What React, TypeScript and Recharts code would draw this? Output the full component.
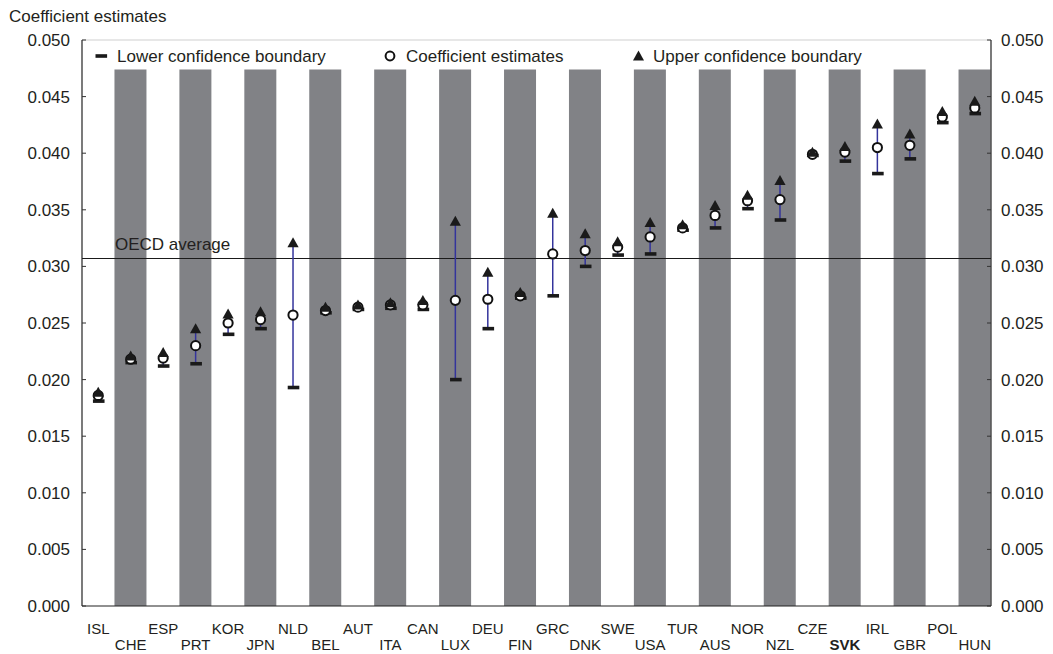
import React from 'react';
import { ComposedChart, Bar, Line, XAxis, YAxis, ReferenceLine, ErrorBar } from 'recharts';

const categories = ['ISL','CHE','ESP','PRT','KOR','JPN','NLD','BEL','AUT','ITA','CAN','LUX','DEU','FIN','GRC','DNK','SWE','USA','TUR','AUS','NOR','NZL','CZE','SVK','IRL','GBR','POL','HUN'];
const lowerBound = [0.0181,0.0215,0.0212,0.0214,0.0240,0.0245,0.0193,0.0259,0.0262,0.0263,0.0262,0.0200,0.0245,0.0272,0.0274,0.0300,0.0310,0.0311,0.0332,0.0334,0.0351,0.0341,0.0398,0.0393,0.0382,0.0395,0.0427,0.0435];
const estimates = [0.0186,0.0218,0.0219,0.0230,0.0250,0.0253,0.0257,0.0261,0.0264,0.0266,0.0266,0.0270,0.0271,0.0274,0.0311,0.0314,0.0317,0.0326,0.0334,0.0345,0.0358,0.0359,0.0399,0.0401,0.0405,0.0407,0.0432,0.0440];
const upperBound = [0.0188,0.0220,0.0223,0.0244,0.0257,0.0259,0.0320,0.0263,0.0265,0.0267,0.0269,0.0339,0.0294,0.0276,0.0346,0.0328,0.0321,0.0338,0.0336,0.0353,0.0362,0.0375,0.0400,0.0405,0.0425,0.0416,0.0436,0.0445];
const bandTop = 0.0474;
const oecdAverage = 0.0307;
const yTicks = [0,0.005,0.010,0.015,0.020,0.025,0.030,0.035,0.040,0.045,0.050];
const legendLabels = ['Lower confidence boundary','Coefficient estimates','Upper confidence boundary'];
const titleText = 'Coefficient estimates';
const oecdLabel = 'OECD average';
const boldCategory = 'SVK';

const data = categories.map((c, i) => ({
  name: c,
  band: i % 2 === 1 ? bandTop : null,
  lower: lowerBound[i],
  est: estimates[i],
  upper: upperBound[i],
  spread: [upperBound[i] - lowerBound[i], 0],
}));

const FONT = '"Liberation Sans", Arial, Helvetica, sans-serif';
const TEXT = '#231f20';
const NAVY = '#34349c';

const LowerDash = (p: any) => {
  const { cx, cy } = p;
  if (cx == null || cy == null) return <g key={p.key} />;
  return <rect key={p.key} x={cx - 5.3} y={cy - 1.8} width={11.6} height={3.6} fill="#1a1a1a" />;
};
const EstCircle = (p: any) => {
  const { cx, cy } = p;
  if (cx == null || cy == null) return <g key={p.key} />;
  return <circle key={p.key} cx={cx} cy={cy} r={4.6} fill="#fff" stroke="#111" strokeWidth={2} />;
};
const UpperTri = (p: any) => {
  const { cx, cy } = p;
  if (cx == null || cy == null) return <g key={p.key} />;
  return <path key={p.key} d={`M${cx},${cy - 6.5} L${cx + 5.6},${cy + 3.5} L${cx - 5.6},${cy + 3.5} Z`} fill="#1a1a1a" />;
};

const CategoryTick = (p: any) => {
  const { x, payload } = p;
  const idx = categories.indexOf(payload.value);
  const row = idx % 2;
  return (
    <text x={x} y={row ? 650 : 634} textAnchor="middle" fontSize={15} fontFamily={FONT} fill={TEXT}
      fontWeight={payload.value === boldCategory ? 'bold' : 'normal'}>{payload.value}</text>
  );
};

const LeftTick = (p: any) => {
  const { y, payload } = p;
  return (
    <g>
      <line x1={82} x2={86} y1={y} y2={y} stroke="#333" strokeWidth={1} />
      <text x={70} y={y + 6} textAnchor="end" fontSize={17} fontFamily={FONT} fill={TEXT}>{Number(payload.value).toFixed(3)}</text>
    </g>
  );
};
const RightTick = (p: any) => {
  const { y, payload } = p;
  return (
    <g>
      <line x1={987} x2={991} y1={y} y2={y} stroke="#333" strokeWidth={1} />
      <text x={1001} y={y + 6} textAnchor="start" fontSize={17} fontFamily={FONT} fill={TEXT}>{Number(payload.value).toFixed(3)}</text>
    </g>
  );
};

const OecdLabel = (p: any) => {
  const vb = p.viewBox || {};
  return <text x={vb.x + 33} y={vb.y - 8} fontSize={17} fontFamily={FONT} fill={TEXT}>{oecdLabel}</text>;
};

export default function App() {
  return (
    <div style={{ position: 'absolute', left: 0, top: 0, width: 1053, height: 654, background: '#fff' }}>
      <ComposedChart width={1053} height={654} data={data} margin={{ top: 40, right: 0, bottom: 0, left: 0 }} barCategoryGap={0}>
        <XAxis dataKey="name" height={48} tick={<CategoryTick />} tickLine={false} interval={0} axisLine={{ stroke: '#222', strokeWidth: 1.2 }} />
        <YAxis yAxisId="left" orientation="left" width={82} domain={[0, 0.05]} ticks={yTicks} tick={<LeftTick />} tickLine={false} axisLine={{ stroke: '#222', strokeWidth: 1.2 }} allowDataOverflow />
        <YAxis yAxisId="right" orientation="right" width={62} domain={[0, 0.05]} ticks={yTicks} tick={<RightTick />} tickLine={false} axisLine={{ stroke: '#222', strokeWidth: 1.2 }} allowDataOverflow />
        <Bar yAxisId="left" dataKey="band" fill="#818286" isAnimationActive={false} />
        <ReferenceLine yAxisId="left" y={0.05} stroke="#cfcfcf" strokeWidth={1} />
        <ReferenceLine yAxisId="left" y={oecdAverage} stroke="#1a1a1a" strokeWidth={1.2} label={OecdLabel} />
        <Line yAxisId="left" dataKey="lower" stroke="none" strokeWidth={0} dot={LowerDash} activeDot={false} isAnimationActive={false} legendType="none" />
        <Line yAxisId="left" dataKey="est" stroke="none" strokeWidth={0} dot={EstCircle} activeDot={false} isAnimationActive={false} legendType="none" />
        <Line yAxisId="left" dataKey="upper" stroke="none" strokeWidth={0} dot={UpperTri} activeDot={false} isAnimationActive={false} legendType="none">
          <ErrorBar dataKey="spread" direction="y" width={0} stroke={NAVY} strokeWidth={1.5} isAnimationActive={false} />
        </Line>
      </ComposedChart>
      <svg width={1053} height={654} style={{ position: 'absolute', left: 0, top: 0, pointerEvents: 'none' }}>
        <text x={9} y={22} fontSize={17} fontFamily={FONT} fill={TEXT}>{titleText}</text>
        <rect x={95.5} y={54.2} width={11.6} height={3.6} fill="#1a1a1a" />
        <text x={117} y={62} fontSize={17} fontFamily={FONT} fill={TEXT}>{legendLabels[0]}</text>
        <circle cx={390} cy={56} r={4.4} fill="#fff" stroke="#111" strokeWidth={2} />
        <text x={406} y={62} fontSize={17} fontFamily={FONT} fill={TEXT}>{legendLabels[1]}</text>
        <path d="M638.5,50.5 L644,60.5 L633,60.5 Z" fill="#1a1a1a" />
        <text x={653} y={62} fontSize={17} fontFamily={FONT} fill={TEXT}>{legendLabels[2]}</text>
      </svg>
    </div>
  );
}
